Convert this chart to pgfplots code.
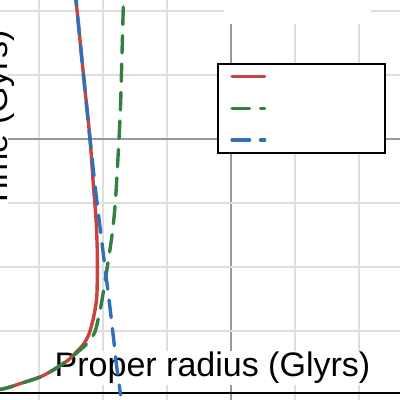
\documentclass[border=0pt]{standalone}
\usepackage{fontspec}
\setmainfont{Liberation Sans}
\usepackage{pgfplots}
\pgfplotsset{compat=1.18}
\definecolor{lcred}{RGB}{204,67,61}
\definecolor{hsgreen}{RGB}{49,130,66}
\definecolor{ehblue}{RGB}{48,112,185}
\definecolor{gridmajor}{RGB}{153,153,153}
\definecolor{gridminor}{RGB}{222,222,222}

\begin{document}
\begin{tikzpicture}
\useasboundingbox (0,0) rectangle (400pt,400pt);
\clip (0,0) rectangle (400pt,400pt);
\begin{axis}[
    at={(-10pt,-10pt)}, anchor=south west,
    x=32pt, y=32pt,
    xmin=2.46875, xmax=15.59375,
    ymin=-0.46875, ymax=12.65625,
    axis line style={draw=none},
    tick style={draw=none},
    xtick={10}, minor xtick={4,6,8,12,14},
    ytick={8}, minor ytick={2,4,6,10,12},
    xticklabels={}, yticklabels={},
    grid=both,
    major grid style={draw=gridmajor, line width=2pt},
    minor grid style={draw=gridminor, line width=2pt},
    extra y ticks={0.0625},
    extra y tick labels={},
    extra y tick style={grid=major, major grid style={draw=black, line width=2.5pt}},
    legend style={at={(0.54214,0.82452)}, anchor=north west, outer sep=0pt,
        draw=black, line width=2pt, fill=white,
        inner xsep=12.65pt, inner ysep=6pt, row sep=18.5pt,
        nodes={inner sep=0pt}},
    legend cell align=left,
    legend image code/.code={
        \path (0pt,-5pt) (138pt,5pt);
        \draw[#1, line cap=round] (0pt,0pt) -- (32.6pt,0pt);
    },
]
% white title box and label boxes under the curves
\fill[white] (axis cs:9.781,11.594) rectangle (axis cs:14.375,13.2);
\node[fill=white, inner sep=1pt, anchor=base,
      font=\fontsize{34}{40}\selectfont] at (axis cs:9.422,0.5625) {Proper radius (Glyrs)};
\node[fill=white, inner sep=0pt, text depth=1pt, rotate=90, anchor=base,
      font=\fontsize{34}{40}\selectfont] at (axis cs:3.0,8.609) {Time (Gyrs)};

\addplot[lcred, line width=3.4pt, smooth] coordinates {
    (5.094,12.97) (5.156,12.344) (5.281,11.094) (5.406,9.844) (5.594,8.0)
    (5.703,6.5) (5.781,5.5) (5.822,4.5) (5.822,3.7) (5.80,3.0) (5.70,2.4)
    (5.56,1.9) (5.40,1.6) (5.22,1.4) (4.91,1.09) (4.44,0.78) (4.03,0.56)
    (3.47,0.375) (2.875,0.19) (2.16,0.11) (0.9,0.06)
};
\addlegendentry{\mbox{}}
\addplot[hsgreen, line width=3.4pt, smooth, line cap=round, dash pattern=on 17.5pt off 11pt] coordinates {
    (6.634,12.125) (6.584,10.313) (6.547,9.0) (6.5,8.0) (6.39,6.094)
    (6.291,5.063) (6.134,4.0) (5.969,2.969) (5.844,2.344) (5.734,1.94)
    (5.5,1.6) (5.25,1.38) (4.91,1.09) (4.44,0.78) (4.03,0.56) (3.47,0.375)
    (2.875,0.19) (2.16,0.11) (0.9,0.06)
};
\addlegendentry{\mbox{}}
\addplot[ehblue, line width=3.4pt, smooth, line cap=round, dash pattern=on 17.5pt off 11pt] coordinates {
    (5.031,13.59) (5.156,12.344) (5.406,9.844) (5.594,8.0) (5.78,6.3)
    (6.06,4.0) (6.19,2.97) (6.31,1.94) (6.43,0.875) (6.55,0.0)
};
\addlegendentry{\mbox{}}
\end{axis}
\end{tikzpicture}
\end{document}
